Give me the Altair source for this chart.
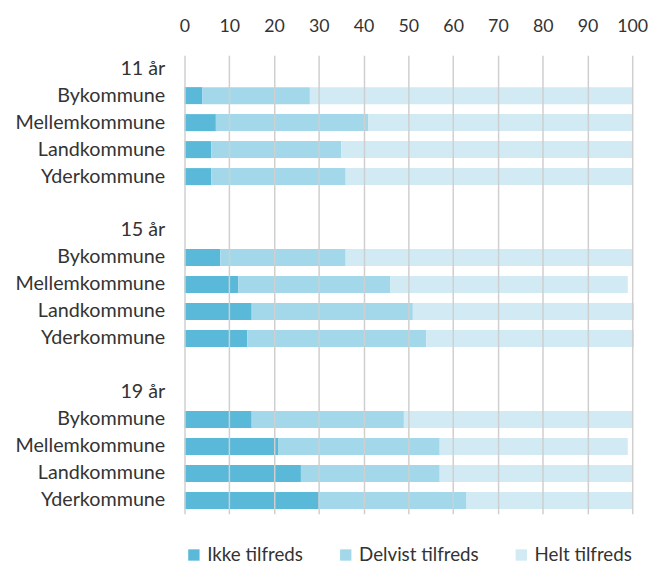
import altair as alt
import pandas as pd

groups = ["11 år", "15 år", "19 år"]
kommuner = ["Bykommune", "Mellemkommune", "Landkommune", "Yderkommune"]
series = ["Ikke tilfreds", "Delvist tilfreds", "Helt tilfreds"]
colors = ["#5AB8D8", "#A3D8EA", "#D1EAF3"]

ikke = {
    "11 år": [4, 7, 6, 6],
    "15 år": [8, 12, 15, 14],
    "19 år": [15, 21, 26, 30],
}
delvist = {
    "11 år": [24, 34, 29, 30],
    "15 år": [28, 34, 36, 40],
    "19 år": [34, 36, 31, 33],
}
helt = {
    "11 år": [72, 59, 65, 64],
    "15 år": [64, 53, 49.4, 46.4],
    "19 år": [51, 42, 43, 37],
}

rows = []
domain = []
for gi, g in enumerate(groups):
    domain.append(g)
    for ki, k in enumerate(kommuner):
        key = g + "|" + k
        domain.append(key)
        for si, (s, d) in enumerate(zip(series, [ikke, delvist, helt])):
            rows.append({"key": key, "serie": s, "order": si, "value": d[g][ki]})
    if gi < len(groups) - 1:
        domain.append("blank" + str(gi))

df = pd.DataFrame(rows)

font = "Lato"
chart = alt.Chart(df).mark_bar().encode(
    y=alt.Y("key:N", scale=alt.Scale(domain=domain, paddingInner=0.37, paddingOuter=0.18),
            axis=alt.Axis(title=None, domain=False, ticks=False, labelPadding=20,
                          labelFontSize=20, labelColor="#333333", labelFont=font,
                          labelExpr="indexof(datum.label,'|')>=0 ? split(datum.label,'|')[1] : (indexof(datum.label,'blank')>=0 ? '' : datum.label)")),
    x=alt.X("value:Q", stack="zero", scale=alt.Scale(domain=[0, 100], nice=False),
            axis=alt.Axis(orient="top", title=None, values=list(range(0, 101, 10)),
                          domain=False, ticks=False, tickSize=0, labelPadding=20,
                          labelFlush=False, labelOverlap=False,
                          labelFontSize=18, labelColor="#333333", labelFont=font,
                          grid=True, gridColor="#CFCFCF", gridWidth=1.5, zindex=1)),
    color=alt.Color("serie:N", scale=alt.Scale(domain=series, range=colors),
                    legend=alt.Legend(title=None, orient="none", direction="horizontal",
                                      legendX=0, legendY=497, symbolType="square",
                                      symbolSize=132, symbolStrokeWidth=0, labelFontSize=19,
                                      labelColor="#333333", labelFont=font, columnPadding=33,
                                      padding=0, labelOffset=4)),
    order=alt.Order("order:Q"),
).properties(
    width=454, height=465,
    padding={"left": 7, "top": 6, "right": 0, "bottom": 0},
).configure_view(stroke=None)

chart.save("out.html", embed_options={"renderer": "svg", "actions": False})
